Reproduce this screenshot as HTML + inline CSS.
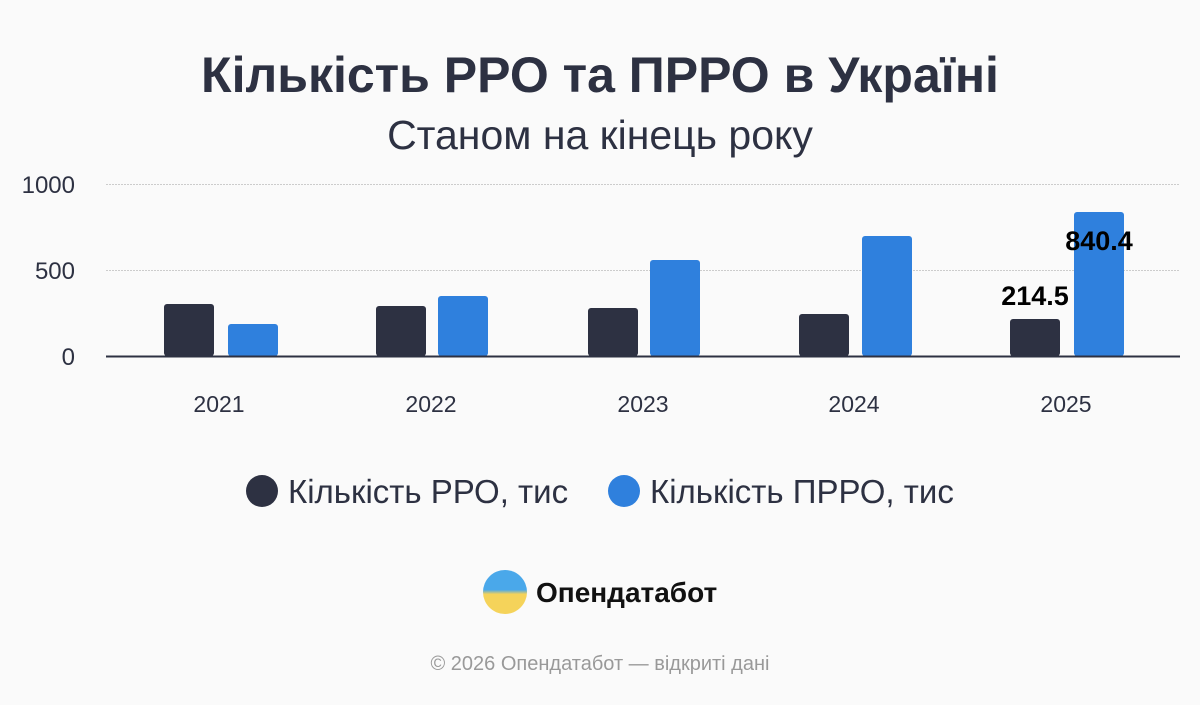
<!DOCTYPE html>
<html><head><meta charset="utf-8"><style>
body{margin:0;width:1200px;height:700px;background:#fafafa;font-family:"Liberation Sans",sans-serif;overflow:hidden}
</style></head><body>
<svg width="1200" height="700" xmlns="http://www.w3.org/2000/svg" font-family="Liberation Sans, sans-serif">
<defs><linearGradient id="lg" x1="0" y1="0" x2="0" y2="1"><stop offset="0.45" stop-color="#4aa8ea"/><stop offset="0.55" stop-color="#f5d35a"/></linearGradient></defs>
<text x="600" y="92" text-anchor="middle" font-size="50" font-weight="bold" fill="#2d3142">Кількість РРО та ПРРО в Україні</text>
<text x="600" y="149" text-anchor="middle" font-size="41" fill="#2d3142">Станом на кінець року</text>
<g stroke="#ccc" stroke-dasharray="2,1"><line x1="106" y1="184.5" x2="1180" y2="184.5"/><line x1="106" y1="270.5" x2="1180" y2="270.5"/></g>
<g font-size="24" fill="#2d3142" text-anchor="end"><text x="75" y="193">1000</text><text x="75" y="279">500</text><text x="75" y="365">0</text></g>
<g fill="#2d3142">
<rect x="164" y="304" width="50" height="52" rx="3"/>
<rect x="376" y="306" width="50" height="50" rx="3"/>
<rect x="588" y="308" width="50" height="48" rx="3"/>
<rect x="799" y="314" width="50" height="42" rx="3"/>
<rect x="1010" y="319" width="50" height="37" rx="3"/>
</g>
<g fill="#2f80dd">
<rect x="228" y="324" width="50" height="32" rx="3"/>
<rect x="438" y="296" width="50" height="60" rx="3"/>
<rect x="650" y="260" width="50" height="96" rx="3"/>
<rect x="862" y="236" width="50" height="120" rx="3"/>
<rect x="1074" y="212" width="50" height="144" rx="3"/>
</g>
<line x1="106" y1="356.5" x2="1180" y2="356.5" stroke="#2d3142" stroke-width="2"/>
<g font-size="27" font-weight="bold" fill="#000" text-anchor="middle"><text x="1035" y="305">214.5</text><text x="1099" y="250">840.4</text></g>
<g font-size="23" fill="#2d3142" text-anchor="middle"><text x="219" y="412">2021</text><text x="431" y="412">2022</text><text x="643" y="412">2023</text><text x="854" y="412">2024</text><text x="1066" y="412">2025</text></g>
<circle cx="262" cy="491" r="16" fill="#2d3142"/>
<text x="288" y="503" font-size="33" fill="#2d3142">Кількість РРО, тис</text>
<circle cx="624" cy="491" r="16" fill="#2f80dd"/>
<text x="650" y="503" font-size="33" fill="#2d3142">Кількість ПРРО, тис</text>
<circle cx="505" cy="592" r="22" fill="url(#lg)"/>
<text x="536" y="602" font-size="28" font-weight="bold" fill="#111">Опендатабот</text>
<text x="600" y="670" text-anchor="middle" font-size="20" fill="#999">© 2026 Опендатабот — відкриті дані</text>
</svg>
</body></html>
